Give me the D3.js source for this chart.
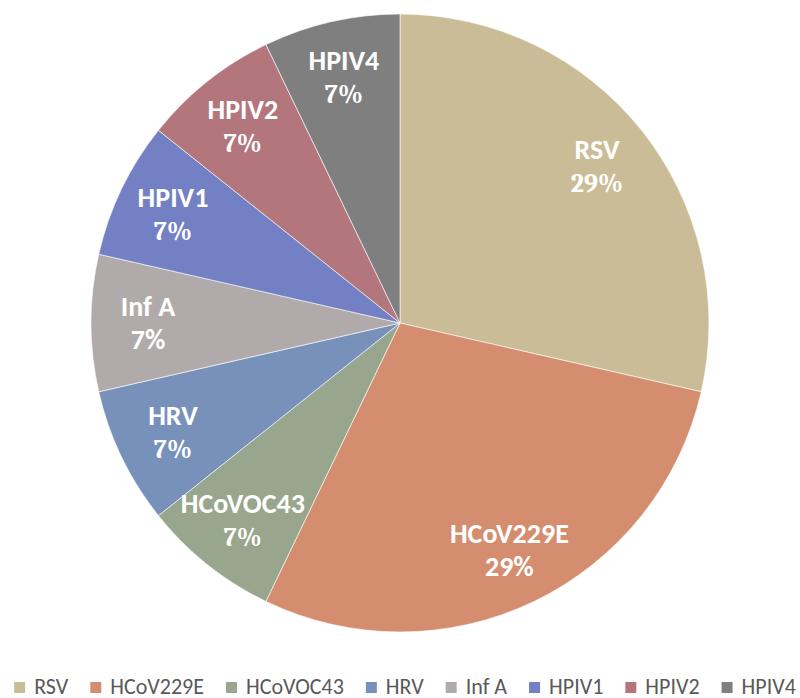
<!DOCTYPE html>
<html>
<head>
<meta charset="utf-8">
<script src="https://cdn.jsdelivr.net/npm/d3@7"></script>
<style>
  body { margin: 0; background: #fff; }
  svg { display: block; }
  .name { font-family: Carlito, Lato, sans-serif; font-weight: bold; font-size: 28px; fill: #fff; }
  .pct { font-family: Caladea, "Noto Serif", "Liberation Serif", serif; font-weight: bold; font-size: 26px; fill: #fff; }
  .pct.sans { font-family: Carlito, Lato, sans-serif; font-size: 28px; }
  .legend text { font-family: Carlito, Lato, sans-serif; font-size: 22px; fill: #595959; }
</style>
</head>
<body>
<svg id="chart" width="800" height="698"></svg>
<script>
// data
var categories = ["RSV", "HCoV229E", "HCoVOC43", "HRV", "Inf A", "HPIV1", "HPIV2", "HPIV4"];
var counts = [4, 4, 1, 1, 1, 1, 1, 1];
var pctLabels = ["29%", "29%", "7%", "7%", "7%", "7%", "7%", "7%"];
var colors = ["#CBBC98", "#D48E6F", "#97A68D", "#7891BB", "#B0ABAA", "#7480C4", "#B3767D", "#7F7F7F"];

// percentages drawn in sans rather than serif (as in the original)
var sansPct = ["HCoV229E", "Inf A"];

var svg = d3.select("#chart");
var cx = 400, cy = 323, radius = 309, labelR = 252;

var color = d3.scaleOrdinal().domain(categories).range(colors);
var data = categories.map(function (c, i) { return { name: c, value: counts[i], pct: pctLabels[i] }; });

var pie = d3.pie().sort(null).value(function (d) { return d.value; });
var arc = d3.arc().innerRadius(0).outerRadius(radius);
var labelArc = d3.arc().innerRadius(labelR).outerRadius(labelR);

var g = svg.append("g").attr("transform", "translate(" + cx + "," + cy + ")");

g.selectAll(".slice")
  .data(pie(data))
  .enter().append("path")
  .attr("class", "slice")
  .attr("d", arc)
  .style("fill", function (d) { return color(d.data.name); })
  .style("stroke", "#fff")
  .style("stroke-width", 0.6);

var labels = g.selectAll(".lbl")
  .data(pie(data))
  .enter().append("g")
  .attr("class", "lbl")
  .attr("transform", function (d) { return "translate(" + labelArc.centroid(d) + ")"; });

labels.append("text")
  .attr("class", "name")
  .attr("text-anchor", "middle")
  .attr("y", -7)
  .text(function (d) { return d.data.name; });

labels.append("text")
  .attr("class", function (d) { return sansPct.indexOf(d.data.name) >= 0 ? "pct sans" : "pct"; })
  .attr("text-anchor", "middle")
  .attr("y", 26)
  .text(function (d) { return d.data.pct; });

// legend
var legend = svg.append("g").attr("class", "legend");
var items = legend.selectAll(".item")
  .data(categories)
  .enter().append("g")
  .attr("class", "item");

items.append("rect")
  .attr("width", 11).attr("height", 11)
  .attr("y", -12)
  .style("fill", function (d) { return color(d); });

items.append("text")
  .attr("x", 20)
  .attr("y", 0)
  .text(function (d) { return d; });

var xPos = 0, offsets = [];
items.each(function () {
  var w = d3.select(this).select("text").node().getComputedTextLength();
  offsets.push(xPos);
  xPos += 20 + w + 22;
});
var total = xPos - 22;
var startX = Math.max(4, 405 - total / 2);
items.attr("transform", function (d, i) { return "translate(" + (startX + offsets[i]) + ",694)"; });
</script>
</body>
</html>
